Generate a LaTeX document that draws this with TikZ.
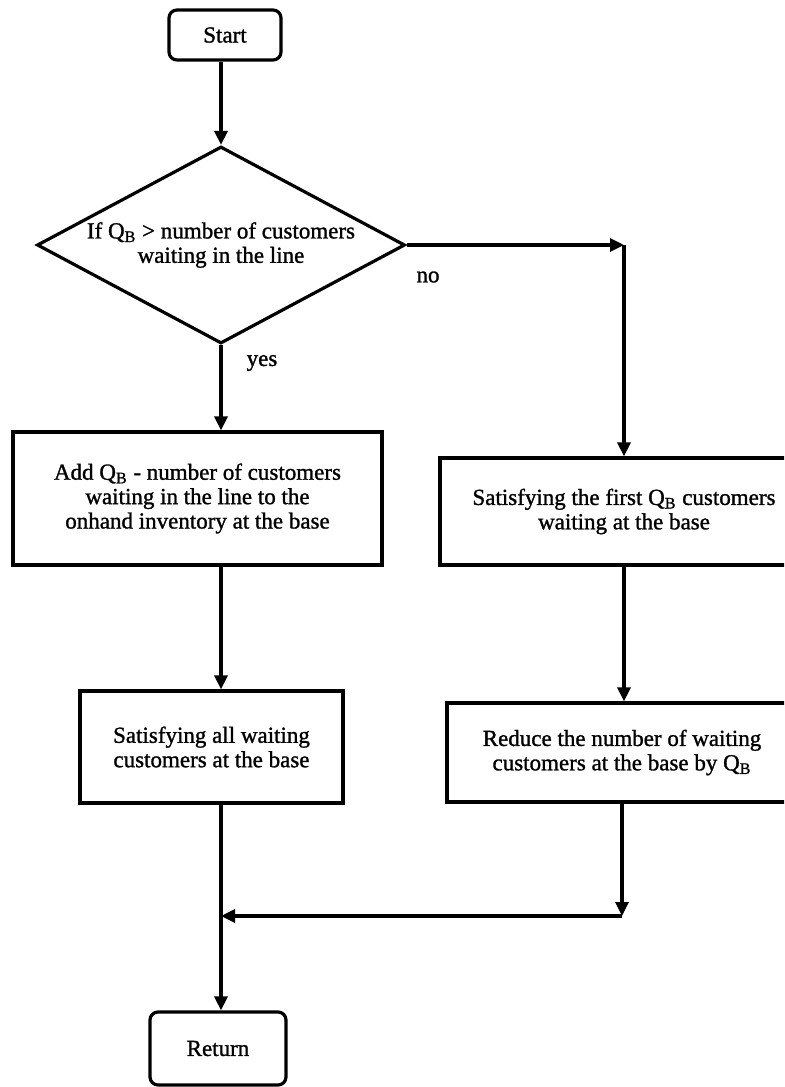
\documentclass[tikz,border=0pt]{standalone}
\usepackage{fontspec}
\setmainfont{Liberation Serif}[FakeBold=1.2]
\usetikzlibrary{shapes.geometric,arrows.meta}
\begin{document}
\begin{tikzpicture}[x=0.5pt,y=-0.5pt,
  every node/.style={font=\fontsize{11.5}{12.2}\selectfont},
  box/.style={draw, line width=1.6pt, align=center, inner sep=0pt},
  term/.style={box, rounded corners=4pt},
  decision/.style={draw, line width=1.6pt, shape=diamond, aspect=1.87,
                   inner sep=0pt, align=center},
  flow/.style={line width=1.6pt, -{Triangle[length=7pt,width=6.5pt]}}]
\useasboundingbox (0,0) rectangle (784,1087);
\clip (0,0) rectangle (784,1087);

% process steps
\node[term, minimum width=56pt, minimum height=25pt] (start) at (225,35) {Start};
\node[decision, minimum width=184pt, minimum height=98.5pt] (dec) at (221,245)
  {If Q\textsubscript{B} > number of customers\\waiting in the line};
\node[box, minimum width=184.5pt, minimum height=66.5pt] (lb1) at (197.5,498.5)
  {Add Q\textsubscript{B} - number of customers\\waiting in the line to the\\onhand inventory at the base};
\node[box, minimum width=184pt, minimum height=53.5pt] (rb1) at (624,511.5)
  {Satisfying the first Q\textsubscript{B} customers\\waiting at the base};
\node[box, minimum width=131.5pt, minimum height=56pt] (lb2) at (211.5,747)
  {Satisfying all waiting\\customers at the base};
\node[box, minimum width=175pt, minimum height=49.5pt] (rb2) at (622,752.5)
  {Reduce the number of waiting\\customers at the base by Q\textsubscript{B}};
\node[term, minimum width=68pt, minimum height=36.5pt] (ret) at (218,1048.5) {Return};

% branch labels
\node (no) at (428,277) {no};
\node (yes) at (262,363) {yes};

% routing points
\coordinate (nocorner) at (624,245);
\coordinate (join) at (622,916);

% connectors
\draw[flow] (start.south -| dec.north) -- (dec.north);
\draw[flow] (dec.east) -- (nocorner);
\draw[flow] (nocorner) -- (rb1.north);
\draw[flow] (rb1.south) -- (rb1.south |- rb2.north);
\draw[flow] (rb2.south) -- (join);
\draw[flow] (join) -- (join -| dec.south);
\draw[flow] (dec.south) -- (dec.south |- lb1.north);
\draw[flow] (lb1.south -| dec.south) -- (lb2.north -| dec.south);
\draw[flow] (lb2.south -| dec.south) -- (ret.north -| dec.south);
\end{tikzpicture}
\end{document}
